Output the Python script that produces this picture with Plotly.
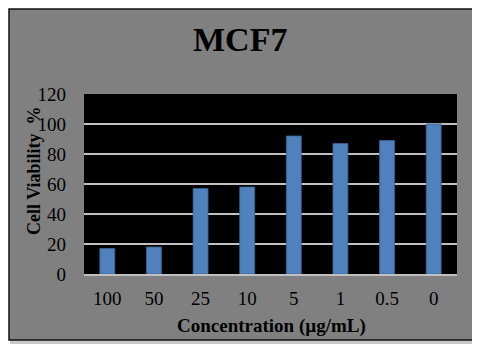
import plotly.graph_objects as go

# Cell viability of MCF7 at each concentration
concentrations = ["100", "50", "25", "10", "5", "1", "0.5", "0"]
viability = [17, 18, 57, 58, 92, 87, 89, 100]
y_ticks = [0, 20, 40, 60, 80, 100, 120]

# the page puts the figure 8px in from the top-left corner
OFF = 8
W, H = 480 - OFF, 349 - OFF
L, R, T, B = 84 - OFF, 23, 94 - OFF, 75
pw, ph = W - L - R, H - T - B


def px_x(p):
    # page pixel -> paper x
    return (p - OFF - L) / pw


def px_y(p):
    # page pixel -> paper y
    return (H - B - (p - OFF)) / ph


serif = "Liberation Serif, Times New Roman, serif"

fig = go.Figure(go.Bar(x=concentrations, y=viability,
                       marker=dict(color="#4f81bd", line=dict(color="#3a6594", width=0.8))))

# outer frame with a soft shadow, then the black plot area
fig.add_shape(type="rect", xref="paper", yref="paper", layer="below",
              x0=px_x(10), x1=px_x(476), y0=px_y(344), y1=px_y(10),
              fillcolor="#c8c8c8", line=dict(width=0))
fig.add_shape(type="rect", xref="paper", yref="paper", layer="below",
              x0=px_x(9), x1=px_x(473), y0=px_y(340), y1=px_y(9),
              fillcolor="#808080", line=dict(color="#111111", width=1.5))
fig.add_shape(type="rect", xref="paper", yref="paper", layer="below",
              x0=0, x1=1, y0=0, y1=1, fillcolor="black", line=dict(width=0))

fig.update_layout(
    width=W, height=H,
    margin=dict(l=L, r=R, t=T, b=B),
    paper_bgcolor="white", plot_bgcolor="black",
    bargap=0.68, showlegend=False,
    font=dict(family=serif, color="black"),
)
fig.update_xaxes(showgrid=False, showline=True, linecolor="#c0c0c0", linewidth=1.5,
                 tickfont=dict(size=19), ticklabelstandoff=6)
fig.update_yaxes(range=[0, 120], tickvals=y_ticks, showgrid=True, gridcolor="#c0c0c0",
                 gridwidth=1.5, zeroline=False, showline=False,
                 tickfont=dict(size=19), ticklabelstandoff=17)

texts = dict(xref="paper", yref="paper", showarrow=False, xanchor="center", yanchor="middle")
fig.add_annotation(text="<b>MCF7</b>", x=px_x(240), y=px_y(40),
                   font=dict(size=34, family=serif), **texts)
fig.add_annotation(text="<b>Concentration (µg/mL)</b>", x=px_x(271), y=px_y(326),
                   font=dict(size=19, family=serif), **texts)
fig.add_annotation(text="<b>Cell Viability  %</b>", textangle=-90, x=px_x(34), y=px_y(171),
                   font=dict(size=18, family=serif), **texts)

fig.write_html("out.html")
